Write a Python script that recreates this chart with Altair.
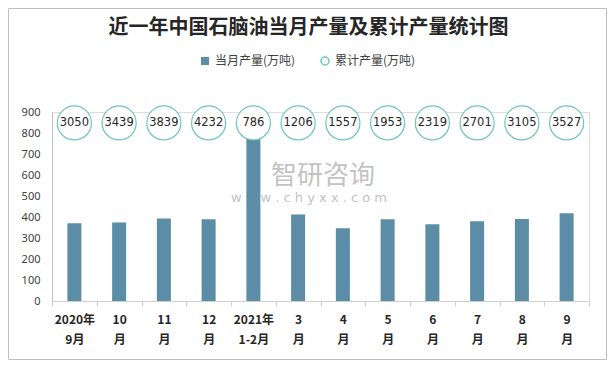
import altair as alt
import pandas as pd

# ---- data ----
months = ["2020年\n9月", "10\n月", "11\n月", "12\n月", "2021年\n1-2月", "3\n月",
          "4\n月", "5\n月", "6\n月", "7\n月", "8\n月", "9\n月"]
monthly = [370, 374, 393, 389, 786, 412, 347, 389, 365, 380, 390, 418]
cumulative = [3050, 3439, 3839, 4232, 786, 1206, 1557, 1953, 2319, 2701, 3105, 3527]
y_ticks = [0, 100, 200, 300, 400, 500, 600, 700, 800, 900]
series_monthly = "当月产量(万吨)"
series_cum = "累计产量(万吨)"
title_text = "近一年中国石脑油当月产量及累计产量统计图"
label_row = 848  # value level at which the cumulative bubbles sit

BAR = "#5b8ea6"
CIRC = "#6fc5bf"
TXT = "#404040"
AX = "#d0d0d0"

df = pd.DataFrame({
    "month": months,
    "monthly": monthly,
    "cum": cumulative,
    "s1": series_monthly,
    "s2": series_cum,
    "lab": label_row,
})

W, H = 537, 189

x_axis = alt.Axis(labelExpr="split(datum.label, '\\n')", labelAngle=0,
                  labelFont="Noto Sans CJK SC", labelFontWeight="bold",
                  labelFontSize=12, labelColor="#262626", labelLineHeight=20,
                  labelBaseline="top", labelPadding=8,
                  tickBand="extent", tickSize=5, tickColor=AX,
                  domainColor=AX, grid=False)
x_scale = alt.Scale(paddingInner=0, paddingOuter=0)
y_axis = alt.Axis(values=y_ticks, ticks=False, grid=False, labelOverlap=False,
                  domainColor="#bfbfbf", labelColor=TXT,
                  labelFont="Noto Sans", labelFontSize=11, labelPadding=12)
y_scale = alt.Scale(domain=[0, 900], nice=False)


def X():
    return alt.X("month:N", sort=months, title=None, scale=x_scale, axis=x_axis)


bars = alt.Chart(df).mark_bar(size=14).encode(
    x=X(),
    y=alt.Y("monthly:Q", title=None, scale=y_scale, axis=y_axis),
    color=alt.Color("s1:N", scale=alt.Scale(domain=[series_monthly], range=[BAR]),
                    legend=alt.Legend(orient="none", legendX=147, legendY=-57,
                                      title=None, symbolType="square", symbolSize=64,
                                      labelFont="Noto Sans CJK SC", labelFontSize=12,
                                      labelColor=TXT, labelOffset=4, padding=0)),
)

circles = alt.Chart(df).mark_point(filled=False, fill="white", size=1160,
                                    strokeWidth=1.2, opacity=1).encode(
    x=X(),
    y=alt.Y("lab:Q", title=None, scale=y_scale, axis=y_axis),
    stroke=alt.Stroke("s2:N", scale=alt.Scale(domain=[series_cum], range=[CIRC]),
                      legend=alt.Legend(orient="none", legendX=267, legendY=-57,
                                        title=None, symbolType="circle", symbolSize=64,
                                        symbolFillColor="white", symbolStrokeWidth=1.5,
                                        labelFont="Noto Sans CJK SC", labelFontSize=12,
                                        labelColor=TXT, labelOffset=4, padding=0)),
)

texts = alt.Chart(df).mark_text(font="DejaVu Sans", fontSize=11.5, color="#262626").encode(
    x=X(),
    y=alt.Y("lab:Q", title=None, scale=y_scale, axis=y_axis),
    text=alt.Text("cum:Q", format="d"),
)

wm = pd.DataFrame({"t": ["智研咨询", "w w w . c h y x x . c o m"],
                   "fs": [24, 13]})
watermark1 = alt.Chart(wm).transform_filter("datum.fs == 24").mark_text(
    font="Noto Sans CJK SC", fontSize=26, color="#b5b5b5", opacity=0.8
).encode(x=alt.value(271), y=alt.value(64), text="t:N")
watermark2 = alt.Chart(wm).transform_filter("datum.fs == 13").mark_text(
    font="DejaVu Sans", fontSize=13, color="#b5b5b5", opacity=0.8
).encode(x=alt.value(257), y=alt.value(86), text="t:N")

border = alt.Chart(wm).transform_filter("datum.fs == 24").mark_rect(
    fill=None, stroke="#bfbfbf", strokeWidth=1
).encode(x=alt.value(-43.5), x2=alt.value(554.5), y=alt.value(-103.5), y2=alt.value(247.5))

chart = alt.layer(watermark1, watermark2, bars, circles, texts, border).resolve_scale(
    color="independent"
).properties(
    width=W, height=H,
    title=alt.TitleParams(title_text, font="Noto Sans CJK SC", fontSize=20,
                          fontWeight="bold", color="#262626", anchor="middle",
                          dx=-12, dy=30, offset=0),
    autosize=alt.AutoSizeParams(type="none"),
    padding={"left": 44, "top": 104, "right": 18, "bottom": 59},
).configure_view(stroke=None).configure(background="white")

chart.save("out.html", embed_options={"renderer": "svg", "actions": False})
